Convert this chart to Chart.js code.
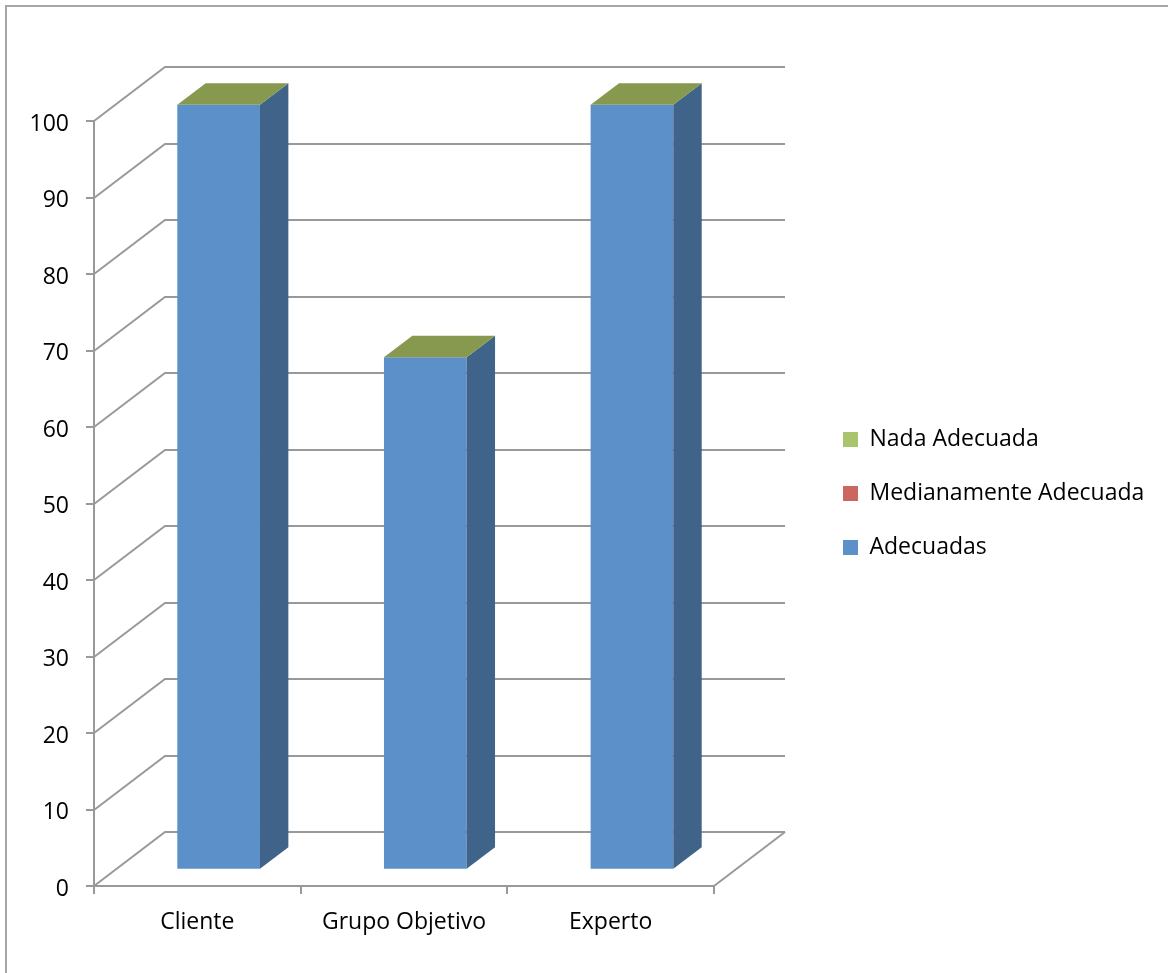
<!DOCTYPE html>
<html>
<head>
<meta charset="utf-8">
<script src="https://cdn.jsdelivr.net/npm/chart.js@4.4.1/dist/chart.umd.min.js"></script>
<style>
html, body { margin: 0; padding: 0; background: #fff; }
</style>
</head>
<body>
<canvas id="chart" width="1168" height="973"></canvas>
<script>
// data
const categories = ['Cliente', 'Grupo Objetivo', 'Experto'];
const adecuadas = [100, 67, 100];
const medianamente = [0, 0, 0];
const nada = [0, 0, 0];
const seriesNames = ['Adecuadas', 'Medianamente Adecuada', 'Nada Adecuada'];

// look
const frontColors = ['#5B91C8', '#CC6660', '#A8C46C'];
const sideColors = ['#3F6389', '#97423E', '#6E8640'];
const topColors = ['#4C7DB3', '#B0524D', '#87994F'];
const gridColor = '#999999';
const depth = { x: 71, y: -54 };   // floor depth, left/back offset
const gap = 0.3, thick = 0.4;      // bar position inside the depth

const chart3d = {
    id: 'chart3d',
    beforeInit(chart) {
        const fit = chart.legend.fit;
        chart.legend.fit = function () {
            fit.call(this);
            this.width = 356;
        };
    },
    beforeDraw(chart) {
        const ctx = chart.ctx;
        ctx.save();
        ctx.strokeStyle = '#A6A6A6';
        ctx.lineWidth = 2;
        ctx.beginPath();
        ctx.moveTo(6, chart.height);
        ctx.lineTo(6, 6);
        ctx.lineTo(chart.width, 6);
        ctx.stroke();
        ctx.restore();
    },
    beforeDatasetsDraw(chart) {
        const { ctx, chartArea: a, scales: { y } } = chart;
        ctx.save();
        ctx.strokeStyle = gridColor;
        ctx.lineWidth = 2;
        y.ticks.forEach(t => {
            const py = Math.round(y.getPixelForValue(t.value));
            ctx.beginPath();
            ctx.moveTo(a.left, py);
            ctx.lineTo(a.left + depth.x, py + depth.y);
            ctx.lineTo(a.right + depth.x, py + depth.y);
            ctx.stroke();
        });
        ctx.beginPath();
        ctx.moveTo(a.right, a.bottom);
        ctx.lineTo(a.right + depth.x, a.bottom + depth.y);
        ctx.stroke();
        ctx.restore();
        // front faces are drawn by chart.js, pushed into the depth
        ctx.save();
        ctx.translate(depth.x * gap, depth.y * gap);
    },
    afterDatasetsDraw(chart) {
        const ctx = chart.ctx;
        ctx.restore();
        const ox = depth.x * gap, oy = depth.y * gap;
        const bx = depth.x * thick, by = depth.y * thick;
        const metas = chart.getSortedVisibleDatasetMetas();
        const last = metas.length - 1;
        metas.forEach((meta, di) => {
            meta.data.forEach(el => {
                const { x, y, base, width } = el.getProps(['x', 'y', 'base', 'width'], true);
                const l = x - width / 2 + ox, r = x + width / 2 + ox;
                const t = y + oy, b = base + oy;
                if (b - t > 0.5) {
                    ctx.fillStyle = sideColors[meta.index];
                    ctx.beginPath();
                    ctx.moveTo(r, t);
                    ctx.lineTo(r + bx, t + by);
                    ctx.lineTo(r + bx, b + by);
                    ctx.lineTo(r, b);
                    ctx.closePath();
                    ctx.fill();
                }
                if (di === last) {
                    ctx.fillStyle = topColors[meta.index];
                    ctx.beginPath();
                    ctx.moveTo(l, t);
                    ctx.lineTo(r, t);
                    ctx.lineTo(r + bx, t + by);
                    ctx.lineTo(l + bx, t + by);
                    ctx.closePath();
                    ctx.fill();
                }
            });
        });
    }
};

const font = { family: 'Open Sans', size: 23 };

new Chart(document.getElementById('chart'), {
    type: 'bar',
    data: {
        labels: categories,
        datasets: [
            { label: seriesNames[0], data: adecuadas, backgroundColor: frontColors[0] },
            { label: seriesNames[1], data: medianamente, backgroundColor: frontColors[1] },
            { label: seriesNames[2], data: nada, backgroundColor: frontColors[2] }
        ]
    },
    options: {
        responsive: false,
        animation: false,
        layout: { padding: 0 },
        datasets: {
            bar: { barPercentage: 0.4, categoryPercentage: 1, borderWidth: 0, clip: false }
        },
        scales: {
            x: {
                stacked: true,
                grid: { drawOnChartArea: false, color: gridColor, lineWidth: 2, tickLength: 8, offset: true },
                border: { color: gridColor, width: 2 },
                ticks: { color: '#000', font: font, padding: 15 },
                afterFit: s => { s.height = 87; }
            },
            y: {
                stacked: true,
                min: 0,
                max: 100,
                grid: { drawOnChartArea: false, color: gridColor, lineWidth: 2, tickLength: 8 },
                border: { color: gridColor, width: 2 },
                ticks: { stepSize: 10, color: '#000', font: font, padding: 17, labelOffset: 3 },
                afterFit: s => { s.width = 94; }
            },
            pad: {
                type: 'linear',
                axis: 'y',
                position: 'right',
                grid: { display: false },
                border: { display: false },
                ticks: { display: false },
                afterFit: s => { s.width = 98; }
            }
        },
        plugins: {
            title: {
                display: true,
                text: '',
                fullSize: false,
                padding: { top: 111, bottom: 0 },
                font: { size: 10, lineHeight: 1 }
            },
            legend: {
                position: 'right',
                reverse: true,
                title: { display: true, text: '', padding: 0, font: { size: 14, lineHeight: 1 } },
                labels: { boxWidth: 15, boxHeight: 15, padding: 31, color: '#000', font: font }
            },
            tooltip: { enabled: false }
        }
    },
    plugins: [chart3d]
});
</script>
</body>
</html>
